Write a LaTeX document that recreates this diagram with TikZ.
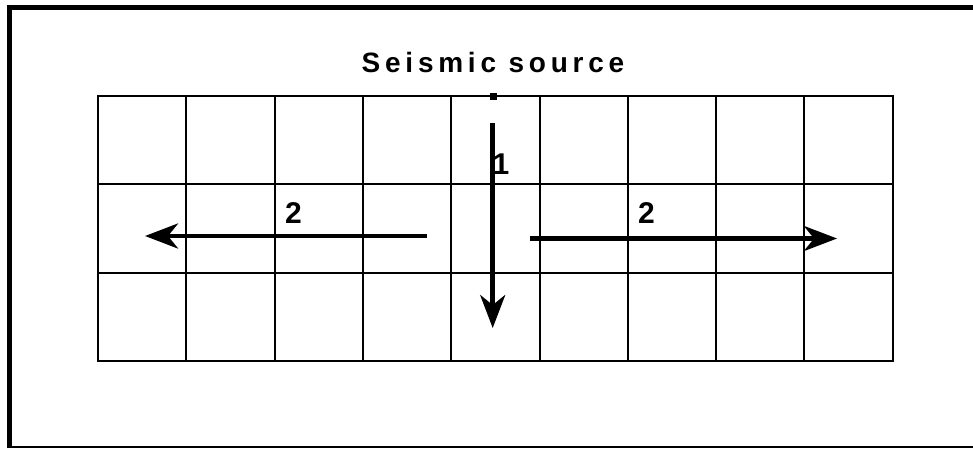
\documentclass[tikz,border=0pt]{standalone}
\usepackage{fontspec}
\setmainfont{Liberation Sans}
\usetikzlibrary{arrows.meta}
\tikzset{
  frameline/.style={line width=5pt},
  gridline/.style={line width=2pt},
  wave/.style={line width=4.5pt,-{Stealth[length=33pt,width=25pt,inset=10pt]}},
  wavelabel/.style={font=\bfseries\fontsize{30}{34}\selectfont, inner sep=0pt},
  titletext/.style={font=\bfseries\fontsize{28}{32}\selectfont\addfontfeature{LetterSpace=17}, inner sep=0pt, anchor=base},
}
\begin{document}
\begin{tikzpicture}[x=1pt,y=-1pt]
\useasboundingbox (0,0) rectangle (973,448);
\fill[white] (0,0) rectangle (973,448);
% outer frame (open to the right)
\draw[frameline] (9.5,448) -- (9.5,7.5) -- (973,7.5);
\draw[line width=2pt] (9.5,446.5) -- (973,446.5);
% grid of cells
\foreach \i in {0,...,9}
  \draw[gridline] ({98+\i*88.3},96) -- ({98+\i*88.3},361);
\foreach \j in {0,...,3}
  \draw[gridline] (97,{96+\j*88.33}) -- (893.7,{96+\j*88.33});
% title and source
\node[titletext] (title) at (493,72) {Seismic source};
\node[fill=black, minimum size=7pt, inner sep=0pt] (src) at (493,96) {};
% wave paths
\coordinate (downstart) at (492.7,123);
\coordinate (downend) at (492.7,328);
\coordinate (leftstart) at (427,236);
\coordinate (leftend) at (145,236);
\coordinate (rightstart) at (530,238.5);
\coordinate (rightend) at (837,238.5);
\draw[wave] (downstart) -- (downend);
\draw[wave] (leftstart) -- (leftend);
\draw[wave] (rightstart) -- (rightend);
\node[wavelabel] (lab1) at (501,164) {1};
\node[wavelabel] (lab2l) at (293.5,213) {2};
\node[wavelabel] (lab2r) at (646.5,213) {2};
\end{tikzpicture}
\end{document}
